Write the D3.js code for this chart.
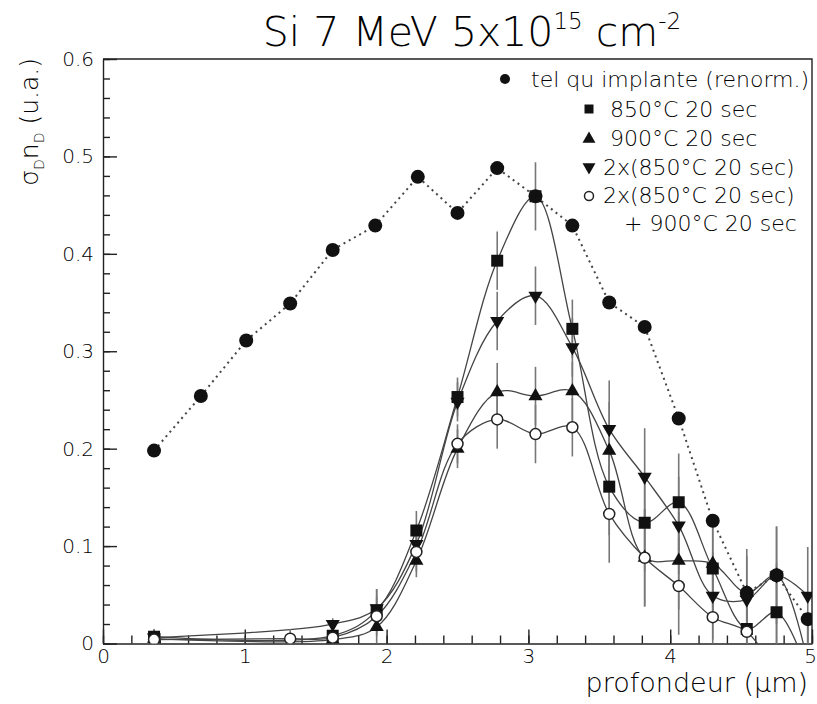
<!DOCTYPE html>
<html>
<head>
<meta charset="utf-8">
<script src="https://cdn.jsdelivr.net/npm/d3@7"></script>
<style>
body { margin: 0; background: #fff; }
text { font-family: "DejaVu Sans", sans-serif; font-weight: 200; fill: #000; }
.axis path, .axis line { stroke: #222; stroke-width: 1.4; }
.axis text { font-size: 20px; }
</style>
</head>
<body>
<svg width="817" height="704"></svg>
<script>
// as-implanted profile (filled circles, dotted)
var depthImpl = [0.36, 0.69, 1.01, 1.32, 1.62, 1.92, 2.22, 2.50, 2.78, 3.05, 3.31, 3.57, 3.82, 4.06, 4.30, 4.54, 4.75, 4.97];
var valImpl   = [0.198, 0.254, 0.311, 0.349, 0.404, 0.429, 0.479, 0.442, 0.488, 0.459, 0.429, 0.350, 0.325, 0.231, 0.126, 0.052, 0.070, 0.025];

// annealed profiles, same depth grid (null = no point)
var depthAnneal = [0.36, 1.32, 1.62, 1.93, 2.21, 2.50, 2.78, 3.05, 3.31, 3.57, 3.82, 4.06, 4.30, 4.54, 4.75, 4.97];
var val850   = [0.007, null, 0.008, 0.034, 0.116, 0.253, 0.393, 0.459, 0.323, 0.161, 0.124, 0.145, 0.077, 0.015, 0.032, -0.03];
var err850   = [0.008, null, 0.008, 0.022, 0.020, 0.020, 0.030, 0.035, 0.030, 0.050, 0.050, 0.050, 0.045, 0.045, 0.050, 0.050];
var val900   = [0.005, null, 0.004, 0.017, 0.085, 0.200, 0.258, 0.254, 0.259, 0.198, 0.088, 0.085, 0.082, 0.052, 0.070, -0.02];
var err900   = [0.008, null, 0.008, 0.017, 0.017, 0.020, 0.030, 0.030, 0.030, 0.050, 0.050, 0.050, 0.045, 0.045, 0.050, 0.050];
var val2x850 = [0.006, null, 0.020, 0.036, 0.102, 0.248, 0.331, 0.357, 0.304, 0.220, 0.171, 0.121, 0.049, 0.045, 0.070, 0.049];
var err2x850 = [0.008, null, 0.006, 0.020, 0.020, 0.020, 0.030, 0.030, 0.030, 0.050, 0.050, 0.050, 0.045, 0.045, 0.050, 0.050];
var val2x900 = [0.004, 0.005, 0.006, 0.028, 0.094, 0.205, 0.230, 0.215, 0.222, 0.133, 0.088, 0.059, 0.027, 0.012, -0.03, null];
var err2x900 = [0.008, 0.010, 0.008, 0.020, 0.020, 0.020, 0.030, 0.030, 0.030, 0.050, 0.050, 0.050, 0.045, 0.045, 0.050, null];

var legendLabels = ["tel qu implante (renorm.)", "850°C 20 sec", "900°C 20 sec", "2x(850°C 20 sec)", "2x(850°C 20 sec)"];

var svg = d3.select("svg");
var x = d3.scaleLinear().domain([0, 5]).range([103, 812]);
var y = d3.scaleLinear().domain([0, 0.6]).range([643.5, 59]);

svg.append("defs").append("clipPath").attr("id", "plotClip")
    .append("rect")
    .attr("x", x(0)).attr("y", y(0.6))
    .attr("width", x(5) - x(0)).attr("height", y(0) - y(0.6));

// axes with inward ticks
svg.append("g").attr("class", "axis")
    .attr("transform", "translate(" + x(0) + ",0)")
    .call(d3.axisLeft(y).tickValues(d3.range(0, 0.61, 0.02)).tickSizeInner(-7).tickSizeOuter(0).tickFormat(""));
svg.append("g").attr("class", "axis")
    .attr("transform", "translate(" + x(0) + ",0)")
    .call(d3.axisLeft(y).tickValues([0, 0.1, 0.2, 0.3, 0.4, 0.5, 0.6]).tickSizeInner(-14).tickSizeOuter(0).tickPadding(9)
        .tickFormat(function(d) { return d === 0 ? "0" : d3.format(".1f")(d); }))
    .call(function(g) { g.select(".domain").remove(); });

svg.append("g").attr("class", "axis")
    .attr("transform", "translate(0," + y(0) + ")")
    .call(d3.axisBottom(x).tickValues(d3.range(0, 5.01, 0.2)).tickSizeInner(-8).tickSizeOuter(0).tickFormat(""));
var xMajor = svg.append("g").attr("class", "axis")
    .attr("transform", "translate(0," + y(0) + ")")
    .call(d3.axisBottom(x).tickValues([0, 1, 2, 3, 4, 5]).tickSizeInner(-14).tickSizeOuter(0).tickPadding(5).tickFormat(d3.format("d")))
    .call(function(g) { g.select(".domain").remove(); });
// last label sits at the page edge, pull it in a bit
xMajor.selectAll(".tick text").filter(function(d) { return d == 5; }).attr("dx", -2);

// top and right frame
svg.append("path")
    .attr("d", "M" + x(0) + "," + y(0.6) + "H" + x(5) + "V" + y(0))
    .attr("fill", "none").attr("stroke", "#222").attr("stroke-width", 1.4);

var plot = svg.append("g").attr("clip-path", "url(#plotClip)");

// implanted: dotted line
var impl = depthImpl.map(function(d, i) { return [d, valImpl[i]]; });
plot.append("path")
    .datum(impl)
    .attr("fill", "none").attr("stroke", "#444").attr("stroke-width", 2)
    .attr("stroke-dasharray", "2,4")
    .attr("d", d3.line().x(function(d) { return x(d[0]); }).y(function(d) { return y(d[1]); }));

var series = [
    {vals: val850, errs: err850, sym: "square"},
    {vals: val900, errs: err900, sym: "up"},
    {vals: val2x850, errs: err2x850, sym: "down"},
    {vals: val2x900, errs: err2x900, sym: "open"}
];

function symbolPath(sym, s) {
    if (sym == "square") return d3.symbol(d3.symbolSquare, s * s)();
    if (sym == "up" || sym == "down") return d3.symbol(d3.symbolTriangle, s * s * 0.6)();
    return d3.symbol(d3.symbolCircle, Math.PI * s * s / 4)();
}

function drawMarker(g, sym, px, py, s) {
    var p = g.append("path")
        .attr("d", symbolPath(sym, s))
        .attr("transform", "translate(" + px + "," + py + ")" + (sym == "down" ? " rotate(180)" : ""));
    if (sym == "open") {
        p.attr("fill", "#fff").attr("stroke", "#222").attr("stroke-width", 1.5);
    } else {
        p.attr("fill", "#111");
    }
}

var smooth = d3.line()
    .x(function(d) { return x(d[0]); })
    .y(function(d) { return y(d[1]); })
    .curve(d3.curveCatmullRom.alpha(0.5));

series.forEach(function(s) {
    var pts = [];
    for (var i = 0; i < depthAnneal.length; i++) {
        if (s.vals[i] != null) pts.push([depthAnneal[i], s.vals[i], s.errs[i]]);
    }
    s.pts = pts;
    plot.append("path").datum(pts)
        .attr("fill", "none").attr("stroke", "#444").attr("stroke-width", 1.3)
        .attr("d", smooth);
    plot.selectAll(null).data(pts).enter().append("line")
        .attr("x1", function(d) { return x(d[0]); })
        .attr("x2", function(d) { return x(d[0]); })
        .attr("y1", function(d) { return y(d[1] - d[2]); })
        .attr("y2", function(d) { return y(d[1] + d[2]); })
        .attr("stroke", "#777").attr("stroke-width", 1.6);
});

series.forEach(function(s) {
    s.pts.forEach(function(d) {
        drawMarker(plot, s.sym, x(d[0]), y(d[1]), s.sym == "open" ? 11 : 12);
    });
});

impl.forEach(function(d) {
    drawMarker(plot, "circle", x(d[0]), y(d[1]), 14);
});

// legend
var legend = svg.append("g");
var legendRows = [
    {sym: "circle", mx: 505, my: 79, tx: 531, ty: 87, size: 10},
    {sym: "square", mx: 589, my: 109, tx: 610, ty: 117, size: 9},
    {sym: "up", mx: 589, my: 139, tx: 610, ty: 146, size: 11},
    {sym: "down", mx: 589, my: 167, tx: 603, ty: 175, size: 11},
    {sym: "open", mx: 589, my: 196, tx: 603, ty: 203, size: 9}
];
legendRows.forEach(function(r, i) {
    drawMarker(legend, r.sym, r.mx, r.my, r.size);
    legend.append("text").attr("x", r.tx).attr("y", r.ty)
        .style("font-size", "22px").text(legendLabels[i]);
});
legend.append("text").attr("x", 624).attr("y", 231)
    .style("font-size", "22px").text("+ 900°C 20 sec");

// title
var title = svg.append("text").attr("x", 472).attr("y", 46)
    .attr("text-anchor", "middle").style("font-size", "41px");
title.append("tspan").text("Si 7 MeV 5x10");
title.append("tspan").attr("dy", -17).style("font-size", "23px").text("15");
title.append("tspan").attr("dy", 17).text(" cm");
title.append("tspan").attr("dy", -17).style("font-size", "23px").text("-2");

// axis labels
var ylab = svg.append("text")
    .attr("transform", "translate(38,58) rotate(-90)")
    .attr("text-anchor", "end").style("font-size", "25px");
ylab.append("tspan").text("σ");
ylab.append("tspan").attr("dy", 6).style("font-size", "14px").text("D");
ylab.append("tspan").attr("dy", -6).text("n");
ylab.append("tspan").attr("dy", 6).style("font-size", "14px").text("D");
ylab.append("tspan").attr("dy", -6).text(" (u.a.)");

svg.append("text").attr("x", 808).attr("y", 692)
    .attr("text-anchor", "end").style("font-size", "27px")
    .text("profondeur (μm)");
</script>
</body>
</html>
